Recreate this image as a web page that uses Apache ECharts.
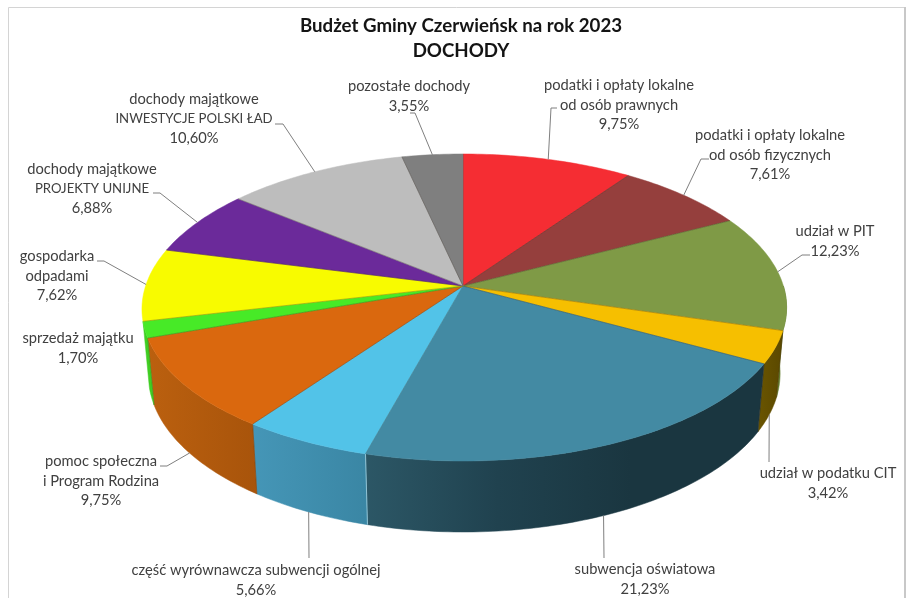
<!DOCTYPE html>
<html><head><meta charset="utf-8">
<style>html,body{margin:0;padding:0;background:#fff}#c{width:911px;height:598px}</style>
<script src="https://cdn.jsdelivr.net/npm/echarts@6/dist/echarts.min.js"></script>
</head><body><div id="c"></div>
<script>
const names = [
 'podatki i opłaty lokalne\nod osób prawnych','podatki i opłaty lokalne\nod osób fizycznych','udział w PIT','udział w podatku CIT',
 'subwencja oświatowa','część wyrównawcza subwencji ogólnej','pomoc społeczna\ni Program Rodzina','sprzedaż majątku',
 'gospodarka\nodpadami','dochody majątkowe\nPROJEKTY UNIJNE','dochody majątkowe\nINWESTYCJE POLSKI ŁAD','pozostałe dochody'];
const values = [9.75,7.61,12.23,3.42,21.23,5.66,9.75,1.70,7.62,6.88,10.60,3.55];
const percentLabels = ['9,75%','7,61%','12,23%','3,42%','21,23%','5,66%','9,75%','1,70%','7,62%','6,88%','10,60%','3,55%'];
const topColors = ['#f52d33','#953f3d','#7f9a46','#f6bf00','#438aa3','#52c3e8','#da680e','#47ea27','#f8fb00','#6b2a9a','#bdbdbd','#7f7f7f'];
const wallColors = [null,null,['#66802f','#5a7228'],['#6a5500','#5a4800'],
 ['#2c5766','#20424f','#1a3640','#1a3640'],['#4596b7','#3a86a4'],['#bb600f','#a8540b'],['#3fce22','#3fce22'],null,null,null,null];

// Label layout: centre of the text block and the leader's stub next to the text
const labelLayout = [
 {x:619,y:105,stub:[[557,108],[551,108]]},
 {x:770,y:155,stub:[[709,159],[701,159]]},
 {x:835,y:241,stub:[[810,255],[802,255]]},
 {x:828,y:483,stub:[[769,462]]},
 {x:645,y:579,stub:[[604,558]]},
 {x:256,y:580,stub:[[309,558]]},
 {x:101,y:481,stub:[[160,466],[167,466]]},
 {x:78,y:348,stub:null},
 {x:57,y:276,stub:[[97,261],[104,261]]},
 {x:92,y:189,stub:[[153,193],[160,193]]},
 {x:194,y:119,stub:[[275,124],[283,124]]},
 {x:409,y:96,stub:[[410,113],[415,113]]}
];

// Perspective disc of the pie
const CX=463, CY=286, A=320.4, B=150.5, K=0.14, TAPER=0.98, BACK_LEFT=6;
const LINE_H=19.6;
const total = values.reduce((a,b)=>a+b,0);
const starts=[]; values.reduce((acc,v,i)=>{starts[i]=acc;return acc+v;},0);
const ang = p => p/total*2*Math.PI;
function topPt(t){
 const c=Math.cos(t), s=Math.sin(t), w=1+K*c;
 const squeeze = s<0 ? BACK_LEFT*(-s)*(0.5+0.5*c) : 0;
 return [CX+A*s/w+squeeze, CY-B*c/w];
}
function botPt(t){const p=topPt(t);return [CX+(p[0]-CX)*TAPER, p[1]+65-6*Math.cos(t)];}
function arc(fn,a,b){const out=[];const n=Math.max(2,Math.ceil((b-a)/(Math.PI/180)));for(let i=0;i<=n;i++)out.push(fn(a+(b-a)*i/n));return out;}
const rows = values.map((v,i)=>[i,v]);

function renderWall(params,api){
 const i=params.dataIndex, col=wallColors[i];
 if(!col) return {type:'group',children:[]};
 const a=Math.max(ang(starts[i]),Math.PI/2), b=Math.min(ang(starts[i]+api.value(1)),Math.PI*262/180);
 const pts=arc(topPt,a,b).concat(arc(botPt,a,b).reverse());
 const fill=new echarts.graphic.LinearGradient(0,0,1,0,col.map((c,k)=>({offset:k/(col.length-1),color:c})));
 return {type:'group',children:[
  {type:'polygon',shape:{points:pts},style:{fill:fill,stroke:fill,lineWidth:0.5}},
  {type:'polyline',shape:{points:[topPt(a),botPt(a)]},style:{fill:'none',stroke:i===5?'rgba(170,215,230,0.75)':'rgba(60,40,20,0.25)',lineWidth:1}}
 ]};
}
function renderTop(params,api){
 const i=params.dataIndex, a=ang(starts[i]), b=ang(starts[i]+api.value(1));
 const pts=[[CX,CY]].concat(arc(topPt,a,b));
 return {type:'group',children:[
  {type:'polygon',shape:{points:pts},style:{fill:topColors[i],stroke:topColors[i],lineWidth:0.5}},
  {type:'polyline',shape:{points:[[CX,CY],topPt(a)]},style:{fill:'none',stroke:'rgba(40,30,20,0.35)',lineWidth:0.8}}
 ]};
}
function renderLabel(params,api){
 const i=params.dataIndex, L=labelLayout[i];
 const mid=ang(starts[i]+api.value(1)/2);
 const kids=[];
 if(L.stub){
  const end=(Math.cos(mid)<-0.15)?botPt(mid):topPt(mid);
  kids.push({type:'polyline',shape:{points:L.stub.concat([end])},style:{fill:'none',stroke:'#7f7f7f',lineWidth:1}});
 }
 const lines=(names[i]+'\n'+percentLabels[i]).split('\n');
 lines.forEach((line,k)=>{
  const caps=/[A-ZŁ]{3}/.test(line) && line===line.toUpperCase();
  kids.push({type:'text',style:{text:line,x:L.x,y:L.y+(k-(lines.length-1)/2)*LINE_H,align:'center',verticalAlign:'middle',
    fill:'#404040',font:(caps?'13.2':'14.7')+'px Lato'}});
 });
 return {type:'group',children:kids};
}
const chart=echarts.init(document.getElementById('c'),null,{renderer:'canvas'});
chart.setOption({
 animation:false,backgroundColor:'#fff',
 title:{text:'Budżet Gminy Czerwieńsk na rok 2023\nDOCHODY',left:456,top:8,textAlign:'center',
  textStyle:{fontFamily:'Lato',fontWeight:'bold',fontSize:18.7,color:'#141414',lineHeight:25}},
 graphic:[
  {type:'polyline',shape:{points:[[8.5,598],[8.5,7.5],[905,7.5]]},style:{fill:'none',stroke:'#d4d4d4',lineWidth:1},silent:true,z:0},
  {type:'line',shape:{x1:905,y1:7,x2:905,y2:598},style:{stroke:'#c8c8c8',lineWidth:2},silent:true,z:0}
 ],
 series:[
  {type:'custom',coordinateSystem:'none',data:rows,renderItem:renderWall,z:2,silent:true},
  {type:'custom',coordinateSystem:'none',data:rows,renderItem:renderTop,z:3,silent:true},
  {type:'custom',coordinateSystem:'none',data:rows,renderItem:renderLabel,z:4,silent:true}
 ]
});
</script></body></html>
